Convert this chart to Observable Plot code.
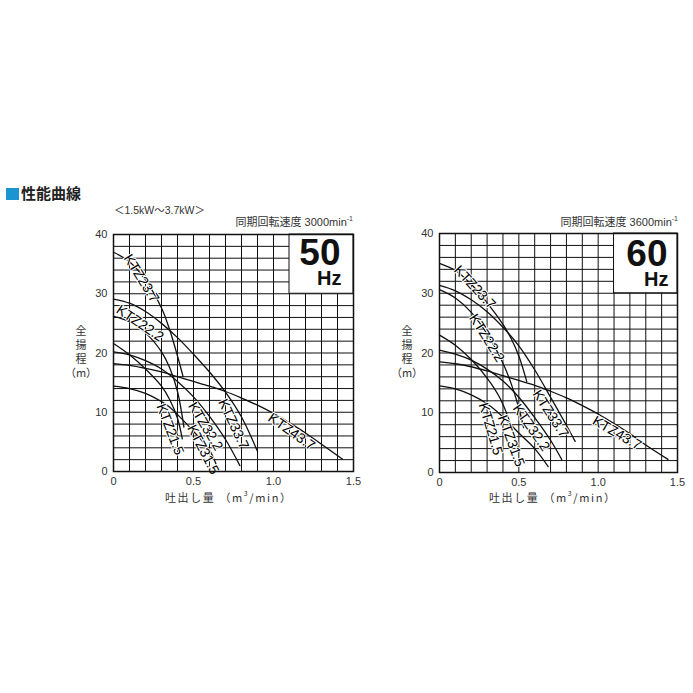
<!DOCTYPE html>
<html><head><meta charset="utf-8">
<script src="https://cdn.jsdelivr.net/npm/d3@7"></script>
<script src="https://cdn.jsdelivr.net/npm/@observablehq/plot@0.6"></script>
<style>
body{margin:0;background:#fff;}
#page{position:relative;width:693px;height:693px;overflow:hidden;background:#fff;font-family:"Liberation Sans",Arial,"Noto Sans CJK JP",sans-serif;color:#333;}
.abs{position:absolute;white-space:nowrap;line-height:1;}
.jp{font-family:"Liberation Sans","Noto Sans CJK JP",sans-serif;}
.ytitle{position:absolute;width:40px;text-align:center;font-size:11px;line-height:14px;font-family:"Noto Sans CJK JP",sans-serif;color:#333;}
.xtitle{position:absolute;white-space:nowrap;font-size:11px;letter-spacing:1.6px;line-height:1;font-family:"Noto Sans CJK JP","Liberation Sans",sans-serif;color:#333;}
sup{font-size:7px;vertical-align:top;position:relative;top:-2px;}
</style></head><body><div id="page">
<div class="abs" style="left:6px;top:188px;width:13px;height:12px;background:#1a95d2"></div>
<div class="abs jp" style="left:21px;top:186px;font-size:15px;font-weight:700;color:#222;">性能曲線</div>
<div class="abs jp" style="left:114px;top:205px;font-size:10.5px;">＜1.5kW～3.7kW＞</div>
<div class="abs jp" style="right:340px;top:217px;font-size:11px;">同期回転速度 3000min<sup>-1</sup></div>
<div class="abs jp" style="right:15px;top:217px;font-size:11px;">同期回転速度 3600min<sup>-1</sup></div>
<div class="ytitle" style="left:61px;top:323px;">全<br>揚<br>程<br>（m）</div>
<div class="ytitle" style="left:387px;top:323px;">全<br>揚<br>程<br>（m）</div>
<div class="xtitle" style="left:165px;top:492px;">吐出し量 （m<sup>3</sup>/min）</div>
<div class="xtitle" style="left:489px;top:492px;">吐出し量 （m<sup>3</sup>/min）</div>
<div id="left" style="position:absolute;left:60px;top:200px;"></div>
<div id="right" style="position:absolute;left:386px;top:199px;"></div>
</div>
<script>
// ---- axis ticks / grid ----
const xTicks = [0, 0.5, 1, 1.5];
const xTickLabels = ["0", "0.5", "1.0", "1.5"];
const yTicks = [0, 10, 20, 30, 40];
const yTickLabels = ["0", "10", "20", "30", "40"];
const gridQ = [0.1,0.2,0.3,0.4,0.5,0.6,0.7,0.8,0.9,1.0,1.1,1.2,1.3,1.4];
const gridH = [2,4,6,8,10,12,14,16,18,20,22,24,26,28,30,32,34,36,38];
const hzBox = [{x1: 1.1, x2: 1.5, y1: 30, y2: 40}];
const hzLeft = ["50", "Hz"];
const hzRight = ["60", "Hz"];

// ---- 50 Hz curves: [flow m3/min, head m] ----
const hz50_KTZ23_7 = [[0,37],[0.1,35.4],[0.2,32.3],[0.3,27.6],[0.35,24],[0.4,19.5],[0.435,16]];
const hz50_KTZ33_7 = [[0,29.1],[0.1,28.4],[0.2,27],[0.3,25],[0.4,22.6],[0.5,19.8],[0.6,16.8],[0.7,13.4],[0.8,9.2],[0.9,3.4]];
const hz50_KTZ22_2 = [[0,26.2],[0.1,25.3],[0.2,23.4],[0.3,20.2],[0.35,17.6],[0.4,13.5],[0.44,7.5]];
const hz50_KTZ21_5 = [[0,21.6],[0.1,19.7],[0.2,17.3],[0.3,14.4],[0.35,12.2],[0.4,9],[0.43,5.5]];
const hz50_KTZ32_2 = [[0,20.2],[0.1,19.7],[0.2,18.7],[0.3,17.3],[0.4,15.2],[0.5,12.6],[0.6,9.3],[0.7,5.4],[0.79,1]];
const hz50_KTZ43_7 = [[0,18.2],[0.1,17.9],[0.2,17.4],[0.3,16.8],[0.4,16],[0.5,15.2],[0.6,14.4],[0.7,13.5],[0.8,12.4],[0.9,11.2],[1.0,9.8],[1.1,8.2],[1.2,6.5],[1.3,4.6],[1.43,2.1]];
const hz50_KTZ31_5 = [[0,14.4],[0.1,14],[0.2,13.2],[0.3,11.8],[0.35,10.9],[0.4,9.6],[0.5,6.8],[0.6,3.6],[0.64,1.3]];

// ---- 60 Hz curves ----
const hz60_KTZ23_7 = [[0,35],[0.1,33.8],[0.2,31.5],[0.3,28.4],[0.4,24.8],[0.45,22.5],[0.5,19.5],[0.55,15.2]];
const hz60_KTZ33_7 = [[0,31.3],[0.1,30.4],[0.2,28.9],[0.3,26.9],[0.4,24.3],[0.5,21.2],[0.6,17.2],[0.7,12.6],[0.8,7.9],[0.855,5.2]];
const hz60_KTZ22_2 = [[0,30.6],[0.1,29.2],[0.2,26.8],[0.3,23.2],[0.4,18.3],[0.45,15],[0.5,10.8],[0.53,7.5]];
const hz60_KTZ21_5 = [[0,23],[0.1,21.3],[0.2,18.9],[0.3,15.8],[0.38,12.5],[0.44,8.7],[0.5,3.5]];
const hz60_KTZ32_2 = [[0,20.5],[0.1,19.8],[0.2,18.8],[0.3,17.3],[0.4,15.3],[0.5,12.6],[0.6,9.2],[0.7,5.4],[0.77,2.2]];
const hz60_KTZ43_7 = [[0,18.5],[0.1,18.2],[0.2,17.7],[0.3,17],[0.4,16.2],[0.5,15.4],[0.6,14.6],[0.7,13.6],[0.8,12.5],[0.9,11.2],[1.0,9.8],[1.1,8.2],[1.2,6.5],[1.3,4.6],[1.44,2.2]];
const hz60_KTZ31_5 = [[0,14.5],[0.1,14],[0.2,13],[0.3,11.5],[0.4,9.3],[0.5,6.6],[0.6,4.0],[0.685,1.0]];

// ---- curve labels: [model, flow, head, angle] ----
const labels50 = [["KTZ23.7",0.174,32.6,58],["KTZ22.2",0.166,25.0,34],["KTZ33.7",0.75,8.0,65],["KTZ43.7",1.113,6.7,35],["KTZ32.2",0.575,7.6,59],["KTZ31.5",0.56,3.7,63],["KTZ21.5",0.354,7.1,69]];
const labels60 = [["KTZ23.7",0.222,31.0,47],["KTZ22.2",0.298,22.5,58],["KTZ33.7",0.70,9.8,57],["KTZ43.7",1.118,6.6,30],["KTZ32.2",0.578,7.5,55],["KTZ31.5",0.452,5.3,70],["KTZ21.5",0.322,7.3,73]];

const series50 = [["KTZ23.7",hz50_KTZ23_7],["KTZ33.7",hz50_KTZ33_7],["KTZ22.2",hz50_KTZ22_2],["KTZ21.5",hz50_KTZ21_5],["KTZ32.2",hz50_KTZ32_2],["KTZ43.7",hz50_KTZ43_7],["KTZ31.5",hz50_KTZ31_5]];
const series60 = [["KTZ23.7",hz60_KTZ23_7],["KTZ33.7",hz60_KTZ33_7],["KTZ22.2",hz60_KTZ22_2],["KTZ21.5",hz60_KTZ21_5],["KTZ32.2",hz60_KTZ32_2],["KTZ43.7",hz60_KTZ43_7],["KTZ31.5",hz60_KTZ31_5]];

function toRows(series) {
  return series.flatMap(([model, pts]) => pts.map(([q, h]) => ({model, q, h})));
}
function toLabels(labels) {
  return labels.map(([name, q, h, angle]) => ({name, q, h, angle}));
}

function chart(series, labels, hz, m) {
  return Plot.plot({
    width: 300, height: 310,
    marginTop: m.top, marginRight: m.right, marginBottom: m.bottom, marginLeft: 53,
    x: {domain: [0, 1.5]},
    y: {domain: [0, 40]},
    style: {background: "transparent", fontFamily: "'Liberation Sans', Arial, sans-serif", fontSize: "11px", color: "#333", overflow: "visible"},
    marks: [
      Plot.ruleX(gridQ, {stroke: "#111", strokeWidth: 1}),
      Plot.ruleY(gridH, {stroke: "#111", strokeWidth: 1}),
      Plot.rect(hzBox, {x1: "x1", x2: "x2", y1: "y1", y2: "y2", fill: "white", stroke: "#111", strokeWidth: 1}),
      Plot.line(toRows(series), {x: "q", y: "h", z: "model", stroke: "#111", strokeWidth: 1.3, curve: "catmull-rom"}),
      Plot.text(toLabels(labels), {x: "q", y: "h", text: "name", rotate: "angle", fontSize: 14, fill: "#000", stroke: "white", strokeWidth: 2, paintOrder: "stroke", fontFamily: "Arial, 'Liberation Sans', sans-serif"}),
      Plot.text([hz[0]], {frameAnchor: "top-right", text: d => d, dx: m.hzdx, dy: m.hzdy, fontSize: 37, fontWeight: "bold", fill: "#111", fontFamily: "'Liberation Sans', Arial, sans-serif"}),
      Plot.text([hz[1]], {frameAnchor: "top-right", text: d => d, dx: m.hzdx + 1, dy: m.hzdy + 32, fontSize: 20, fontWeight: "bold", fill: "#111", fontFamily: "'Liberation Sans', Arial, sans-serif"}),
      Plot.frame({stroke: "#111", strokeWidth: 1.5}),
      Plot.axisX({ticks: xTicks, tickSize: 0, tickPadding: 6, label: null, fill: "#333", tickFormat: d => xTickLabels[xTicks.indexOf(d)]}),
      Plot.axisY({ticks: yTicks, tickSize: 0, tickPadding: 6, label: null, fill: "#333", tickFormat: d => yTickLabels[yTicks.indexOf(d)]})
    ]
  });
}

document.getElementById("left").appendChild(chart(series50, labels50, hzLeft, {top: 34, right: 7, bottom: 39, hzdx: -13, hzdy: 4}));
document.getElementById("right").appendChild(chart(series60, labels60, hzRight, {top: 34, right: 9, bottom: 37, hzdx: -10, hzdy: 6}));
</script>
</body></html>
